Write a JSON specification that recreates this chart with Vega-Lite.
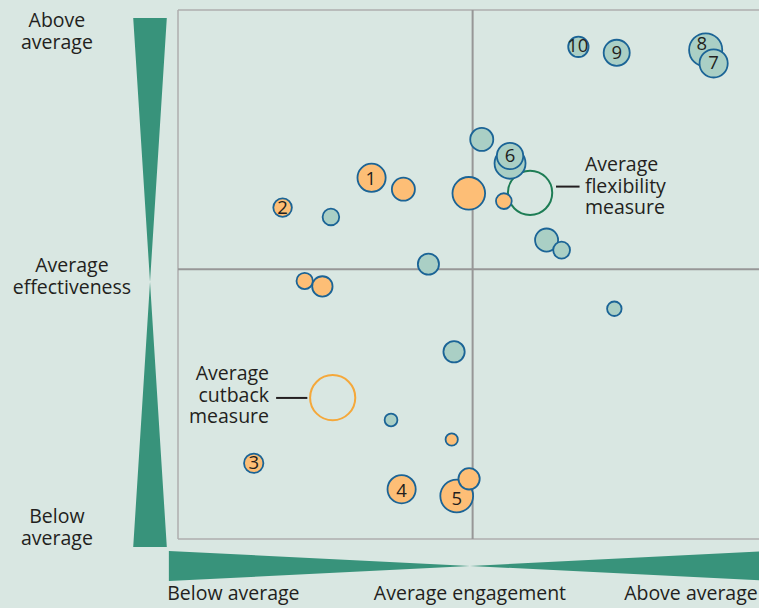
{
  "$schema": "https://vega.github.io/schema/vega-lite/v6.json",
  "width": 581,
  "height": 529,
  "autosize": {"type": "none"},
  "padding": {"left": 178, "top": 10, "right": 0, "bottom": 69},
  "background": "#d9e7e2",
  "config": {"view": {"stroke": null}, "font": "Open Sans", "text": {"font": "Open Sans"}},
  "datasets": {
    "bubbles": [
      {"id": "o1", "group": "cutback", "x": -3.43, "y": 3.53, "size": 253},
      {"id": "o2", "group": "cutback", "x": -2.35, "y": 3.09, "size": 169},
      {"id": "o3", "group": "cutback", "x": -0.13, "y": 2.93, "size": 339},
      {"id": "o4", "group": "cutback", "x": -6.45, "y": 2.38, "size": 110},
      {"id": "o6", "group": "cutback", "x": -5.70, "y": -0.45, "size": 85},
      {"id": "o7", "group": "cutback", "x": -5.10, "y": -0.66, "size": 132},
      {"id": "o8", "group": "cutback", "x": -0.71, "y": -6.56, "size": 48},
      {"id": "o9", "group": "cutback", "x": -7.43, "y": -7.48, "size": 119},
      {"id": "o10", "group": "cutback", "x": -2.41, "y": -8.48, "size": 253},
      {"id": "o11", "group": "cutback", "x": -0.54, "y": -8.74, "size": 342},
      {"id": "o12", "group": "cutback", "x": -0.12, "y": -8.08, "size": 144},
      {"id": "t1", "group": "flexibility", "x": 3.59, "y": 8.58, "size": 132},
      {"id": "t2", "group": "flexibility", "x": 4.89, "y": 8.35, "size": 216},
      {"id": "t3", "group": "flexibility", "x": 7.91, "y": 8.46, "size": 350},
      {"id": "t4", "group": "flexibility", "x": 8.18, "y": 7.94, "size": 253},
      {"id": "t5", "group": "flexibility", "x": 0.31, "y": 5.01, "size": 169},
      {"id": "t6", "group": "flexibility", "x": 1.27, "y": 4.09, "size": 306},
      {"id": "t7", "group": "flexibility", "x": 1.27, "y": 4.37, "size": 222},
      {"id": "t8", "group": "flexibility", "x": -4.81, "y": 2.02, "size": 88},
      {"id": "t9", "group": "flexibility", "x": -1.50, "y": 0.20, "size": 142},
      {"id": "t10", "group": "flexibility", "x": 2.51, "y": 1.13, "size": 169},
      {"id": "t11", "group": "flexibility", "x": 3.02, "y": 0.74, "size": 90},
      {"id": "t12", "group": "flexibility", "x": 4.81, "y": -1.52, "size": 67},
      {"id": "t13", "group": "flexibility", "x": -0.63, "y": -3.18, "size": 144},
      {"id": "t14", "group": "flexibility", "x": -2.77, "y": -5.81, "size": 52},
      {"id": "o5", "group": "cutback", "x": 1.06, "y": 2.63, "size": 79}
    ],
    "labels": [
      {"label": "1", "x": -3.46, "y": 3.47},
      {"label": "2", "x": -6.45, "y": 2.38},
      {"label": "3", "x": -7.43, "y": -7.48},
      {"label": "4", "x": -2.41, "y": -8.54},
      {"label": "5", "x": -0.54, "y": -8.87},
      {"label": "6", "x": 1.27, "y": 4.37},
      {"label": "7", "x": 8.18, "y": 7.94},
      {"label": "8", "x": 7.78, "y": 8.69},
      {"label": "9", "x": 4.89, "y": 8.35},
      {"label": "10", "x": 3.57, "y": 8.61}
    ],
    "rings": [
      {"name": "Average flexibility measure", "x": 1.95, "y": 2.95, "size": 625},
      {"name": "Average cutback measure", "x": -4.75, "y": -4.95, "size": 650}
    ],
    "leftBow": [
      {"y": 9.69, "x1": -11.52, "x2": -10.38},
      {"y": -0.49, "x1": -10.95, "x2": -10.95},
      {"y": -10.71, "x1": -11.52, "x2": -10.38}
    ],
    "bottomBow": [
      {"x": -10.31, "y1": -10.86, "y2": -12.02},
      {"x": -0.09, "y1": -11.44, "y2": -11.44},
      {"x": 10.16, "y1": -10.86, "y2": -12.02}
    ],
    "frame": [
      {"x1": -10, "x2": 10.5, "y1": 10, "y2": 10},
      {"x1": -10, "x2": -10, "y1": -10.4, "y2": 10},
      {"x1": -10, "x2": 10.5, "y1": -10.4, "y2": -10.4}
    ],
    "mid": [
      {"x1": 0, "x2": 0, "y1": -10.4, "y2": 10},
      {"x1": -10, "x2": 10.5, "y1": 0, "y2": 0}
    ],
    "connectors": [
      {"x1": 2.83, "x2": 3.63, "y1": 3.19, "y2": 3.19},
      {"x1": -6.67, "x2": -5.61, "y1": -4.96, "y2": -4.96}
    ],
    "outer": [
      {"text": "Above\naverage", "x": -14.11, "y": 9.58},
      {"text": "Average\neffectiveness", "x": -13.60, "y": 0.13},
      {"text": "Below\naverage", "x": -14.11, "y": -9.55},
      {"text": "Below average", "x": -8.12, "y": -12.52},
      {"text": "Average engagement", "x": -0.09, "y": -12.52},
      {"text": "Above average", "x": 7.41, "y": -12.52}
    ]
  },
  "layer": [
    {
      "data": {"name": "leftBow"},
      "mark": {"type": "area", "color": "#38937b", "orient": "horizontal"},
      "encoding": {
        "y": {"field": "y", "type": "quantitative", "axis": null, "scale": {"domain": [-10.4, 10], "nice": false, "zero": false}},
        "x": {"field": "x1", "type": "quantitative", "axis": null, "scale": {"domain": [-10, 9.72], "nice": false, "zero": false}},
        "x2": {"field": "x2"}
      }
    },
    {
      "data": {"name": "bottomBow"},
      "mark": {"type": "area", "color": "#38937b", "orient": "vertical"},
      "encoding": {
        "x": {"field": "x", "type": "quantitative", "axis": null, "scale": {"domain": [-10, 9.72], "nice": false, "zero": false}},
        "y": {"field": "y1", "type": "quantitative", "axis": null, "scale": {"domain": [-10.4, 10], "nice": false, "zero": false}},
        "y2": {"field": "y2"}
      }
    },
    {
      "data": {"name": "frame"},
      "mark": {"type": "rule", "color": "#aeaeae", "strokeWidth": 1.5},
      "encoding": {
        "x": {"field": "x1", "type": "quantitative", "axis": null, "scale": {"domain": [-10, 9.72], "nice": false, "zero": false}},
        "x2": {"field": "x2"},
        "y": {"field": "y1", "type": "quantitative", "axis": null, "scale": {"domain": [-10.4, 10], "nice": false, "zero": false}},
        "y2": {"field": "y2"}
      }
    },
    {
      "data": {"name": "mid"},
      "mark": {"type": "rule", "color": "#979797", "strokeWidth": 2},
      "encoding": {
        "x": {"field": "x1", "type": "quantitative", "axis": null, "scale": {"domain": [-10, 9.72], "nice": false, "zero": false}},
        "x2": {"field": "x2"},
        "y": {"field": "y1", "type": "quantitative", "axis": null, "scale": {"domain": [-10.4, 10], "nice": false, "zero": false}},
        "y2": {"field": "y2"}
      }
    },
    {
      "data": {"name": "connectors"},
      "mark": {"type": "rule", "color": "#231f20", "strokeWidth": 2},
      "encoding": {
        "x": {"field": "x1", "type": "quantitative", "axis": null, "scale": {"domain": [-10, 9.72], "nice": false, "zero": false}},
        "x2": {"field": "x2"},
        "y": {"field": "y1", "type": "quantitative", "axis": null, "scale": {"domain": [-10.4, 10], "nice": false, "zero": false}},
        "y2": {"field": "y2"}
      }
    },
    {
      "data": {"name": "rings"},
      "mark": {"type": "point", "shape": "circle", "filled": false, "strokeWidth": 2, "opacity": 1},
      "encoding": {
        "x": {"field": "x", "type": "quantitative", "axis": null, "scale": {"domain": [-10, 9.72], "nice": false, "zero": false}},
        "y": {"field": "y", "type": "quantitative", "axis": null, "scale": {"domain": [-10.4, 10], "nice": false, "zero": false}},
        "size": {"field": "size", "type": "quantitative", "legend": null, "scale": {"domain": [0, 700], "range": [0, 2199.1], "zero": true}},
        "stroke": {"field": "name", "type": "nominal", "legend": null, "scale": {"domain": ["Average flexibility measure", "Average cutback measure"], "range": ["#1e7d55", "#f5a83a"]}}
      }
    },
    {
      "data": {"name": "bubbles"},
      "mark": {"type": "circle", "stroke": "#1b6496", "strokeWidth": 1.8, "opacity": 1},
      "encoding": {
        "x": {"field": "x", "type": "quantitative", "axis": null, "scale": {"domain": [-10, 9.72], "nice": false, "zero": false}},
        "y": {"field": "y", "type": "quantitative", "axis": null, "scale": {"domain": [-10.4, 10], "nice": false, "zero": false}},
        "size": {"field": "size", "type": "quantitative", "legend": null, "scale": {"domain": [0, 700], "range": [0, 2199.1], "zero": true}},
        "fill": {"field": "group", "type": "nominal", "legend": null, "scale": {"domain": ["cutback", "flexibility"], "range": ["#fdbe76", "#aacfc5"]}}
      }
    },
    {
      "data": {"name": "labels"},
      "mark": {"type": "text", "fontSize": 18.5, "color": "#231f20", "align": "center", "baseline": "middle"},
      "encoding": {
        "x": {"field": "x", "type": "quantitative", "axis": null, "scale": {"domain": [-10, 9.72], "nice": false, "zero": false}},
        "y": {"field": "y", "type": "quantitative", "axis": null, "scale": {"domain": [-10.4, 10], "nice": false, "zero": false}},
        "text": {"field": "label"}
      }
    },
    {
      "data": {"values": [{"text": "Average\nflexibility\nmeasure", "x": 3.81, "y": 4.02}]},
      "mark": {"type": "text", "fontSize": 19.5, "lineHeight": 21.5, "lineBreak": "\n", "color": "#231f20", "align": "left", "baseline": "middle"},
      "encoding": {
        "x": {"field": "x", "type": "quantitative", "axis": null, "scale": {"domain": [-10, 9.72], "nice": false, "zero": false}},
        "y": {"field": "y", "type": "quantitative", "axis": null, "scale": {"domain": [-10.4, 10], "nice": false, "zero": false}},
        "text": {"field": "text"}
      }
    },
    {
      "data": {"values": [{"text": "Average\ncutback\nmeasure", "x": -6.91, "y": -4.04}]},
      "mark": {"type": "text", "fontSize": 19.5, "lineHeight": 21.5, "lineBreak": "\n", "color": "#231f20", "align": "right", "baseline": "middle"},
      "encoding": {
        "x": {"field": "x", "type": "quantitative", "axis": null, "scale": {"domain": [-10, 9.72], "nice": false, "zero": false}},
        "y": {"field": "y", "type": "quantitative", "axis": null, "scale": {"domain": [-10.4, 10], "nice": false, "zero": false}},
        "text": {"field": "text"}
      }
    },
    {
      "data": {"name": "outer"},
      "mark": {"type": "text", "fontSize": 19.5, "lineHeight": 22, "lineBreak": "\n", "color": "#231f20", "align": "center", "baseline": "middle"},
      "encoding": {
        "x": {"field": "x", "type": "quantitative", "axis": null, "scale": {"domain": [-10, 9.72], "nice": false, "zero": false}},
        "y": {"field": "y", "type": "quantitative", "axis": null, "scale": {"domain": [-10.4, 10], "nice": false, "zero": false}},
        "text": {"field": "text"}
      }
    }
  ]
}
